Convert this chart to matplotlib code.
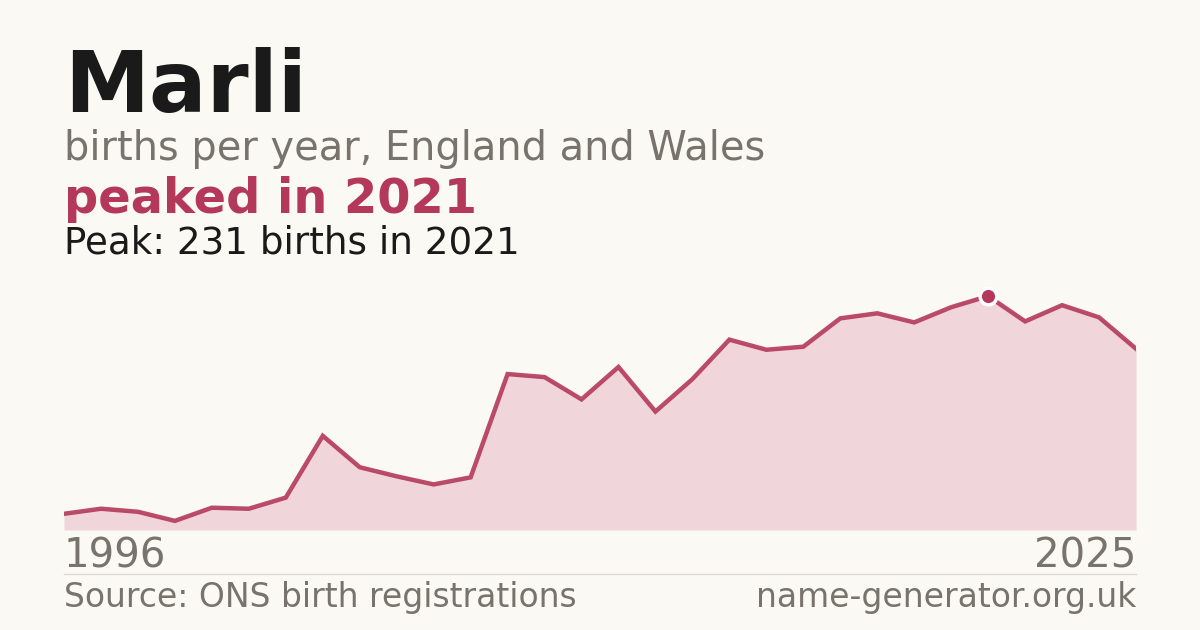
import matplotlib.pyplot as plt

# data
years = list(range(1996, 2026))
births = [16, 21, 18, 9, 22, 21, 32, 93, 62, 53, 45, 52, 154, 151, 129,
          161, 117, 149, 188, 178, 181, 209, 214, 205, 220, 231, 206, 222, 210, 179]
peak_year = 2021
peak_value = 231

bg = "#faf9f4"
accent = "#b3385a"
fill_col = "#f0d5da"
grey = "#78736c"
dark = "#1a1a1a"

fig = plt.figure(figsize=(12, 6.3), dpi=100, facecolor=bg)

# chart area: x 64..1136 px, bottom 530 px
ax = fig.add_axes([64 / 1200, 100 / 630, 1072 / 1200, 269 / 630])
ax.set_facecolor(bg)
ax.fill_between(years, births, 0, color=fill_col, lw=0)
ax.plot(years, births, color=accent, lw=3.2, alpha=0.9, solid_joinstyle="miter")
ax.plot([peak_year], [peak_value], "o", ms=12, color=accent,
        markeredgecolor="white", markeredgewidth=2.5, zorder=5)
ax.set_xlim(years[0], years[-1])
ax.set_ylim(0, peak_value * 1.15)
ax.axis("off")

# headings
fig.text(64 / 1200, 1 - 112 / 630, "Marli", fontsize=61.5, fontweight="bold",
         color=dark, va="baseline")
fig.text(64 / 1200, 1 - 160 / 630, "births per year, England and Wales",
         fontsize=28.7, color=grey, va="baseline")
fig.text(64 / 1200, 1 - 213 / 630, "peaked in 2021", fontsize=34.5,
         fontweight="bold", color=accent, va="baseline")
fig.text(64 / 1200, 1 - 253 / 630, f"Peak: {peak_value} births in {peak_year}",
         fontsize=26.8, color=dark, va="baseline")

# year labels
fig.text(64 / 1200, 1 - 568 / 630, str(years[0]), fontsize=29, color=grey,
         va="baseline", ha="left")
fig.text(1136 / 1200, 1 - 568 / 630, str(years[-1]), fontsize=29, color=grey,
         va="baseline", ha="right")

# separator and footer
fig.add_artist(plt.Line2D([64 / 1200, 1136 / 1200], [1 - 574 / 630, 1 - 574 / 630],
                          color="#dedbd4", lw=1))
fig.text(64 / 1200, 1 - 607 / 630, "Source: ONS birth registrations",
         fontsize=23.8, color=grey, va="baseline")
fig.text(1136 / 1200, 1 - 607 / 630, "name-generator.org.uk",
         fontsize=23.8, color=grey, va="baseline", ha="right")

fig.savefig("out.png", dpi=100, facecolor=bg)
